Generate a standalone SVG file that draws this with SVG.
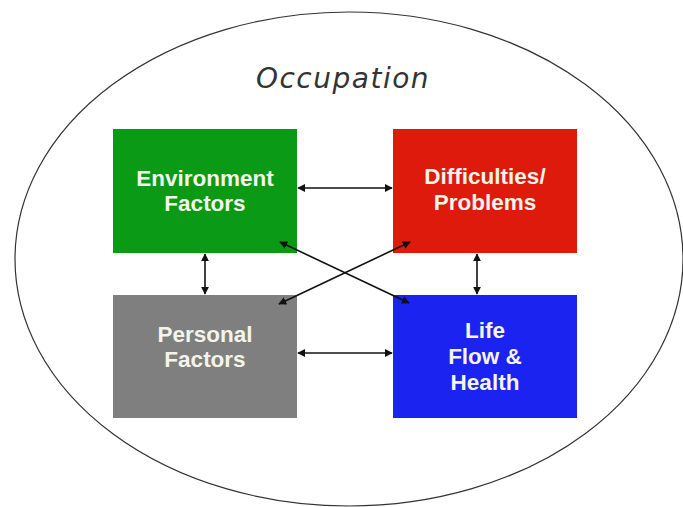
<svg xmlns="http://www.w3.org/2000/svg" width="683" height="507" viewBox="0 0 683 507">
  <style>
    .box-label { font-family: "Liberation Sans", Arial, sans-serif; font-weight: bold; font-size: 22.5px; fill: #f4f4ea; text-anchor: middle; }
    .link { stroke: #111; stroke-width: 1.6; fill: none; marker-start: url(#head); marker-end: url(#head); }
    .title { font-family: "DejaVu Sans", sans-serif; font-style: italic; font-size: 28px; fill: #333; font-weight: 200; }
  </style>
  <defs>
    <marker id="head" viewBox="0 0 10 10" refX="9" refY="5" markerWidth="5" markerHeight="5" orient="auto-start-reverse" markerUnits="strokeWidth">
      <path d="M0,0 L10,5 L0,10 z" fill="#111"/>
    </marker>
  </defs>
  <rect width="683" height="507" fill="#ffffff"/>

  <!-- outer occupation ellipse -->
  <ellipse cx="349" cy="259" rx="334" ry="247" fill="none" stroke="#333" stroke-width="1.2"/>
  <text class="title" x="343" y="88" text-anchor="middle" letter-spacing="1.5">Occupation</text>

  <g id="environment">
    <rect x="113" y="129" width="184" height="124" fill="#0a9a16"/>
    <text class="box-label" x="205" y="186">Environment</text>
    <text class="box-label" x="205" y="211">Factors</text>
  </g>

  <g id="difficulties">
    <rect x="393" y="129" width="184" height="124" fill="#dd1a0c"/>
    <text class="box-label" x="485" y="184">Difficulties/</text>
    <text class="box-label" x="485" y="210">Problems</text>
  </g>

  <g id="personal">
    <rect x="113" y="295" width="184" height="123" fill="#7f7f7f"/>
    <text class="box-label" x="205" y="342">Personal</text>
    <text class="box-label" x="205" y="367">Factors</text>
  </g>

  <g id="life">
    <rect x="393" y="295" width="184" height="123" fill="#1a23f0"/>
    <text class="box-label" x="485" y="338">Life</text>
    <text class="box-label" x="485" y="364">Flow &amp;</text>
    <text class="box-label" x="485" y="390">Health</text>
  </g>

  <g id="connectors">
    <line class="link" x1="298" y1="188" x2="392" y2="188"/>
    <line class="link" x1="298" y1="353" x2="392" y2="353"/>
    <line class="link" x1="205" y1="254" x2="205" y2="294"/>
    <line class="link" x1="477" y1="254" x2="477" y2="294"/>
    <line class="link" x1="280" y1="242" x2="409" y2="303"/>
    <line class="link" x1="410" y1="242" x2="279" y2="304"/>
  </g>
</svg>
